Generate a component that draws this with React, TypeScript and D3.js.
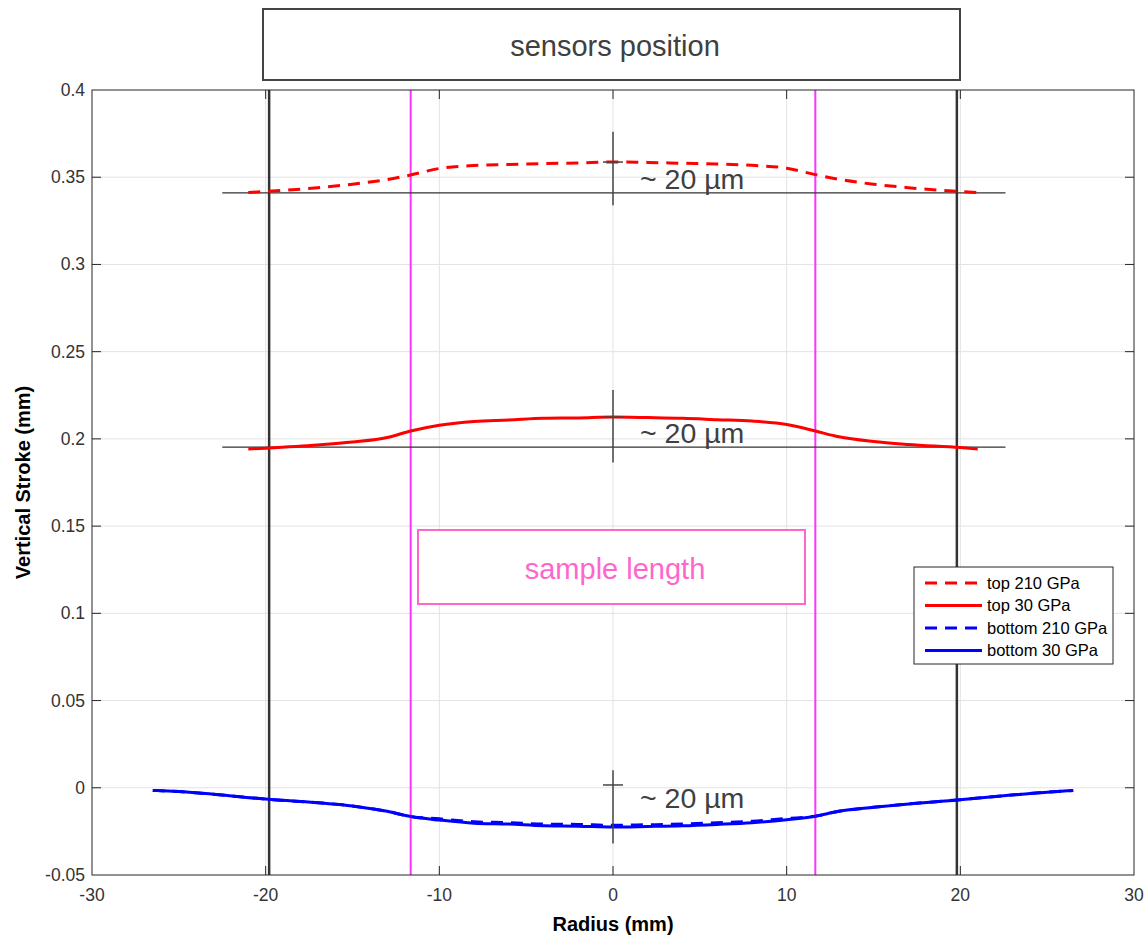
import { useEffect, useRef } from 'react'
import * as d3 from 'd3'

// radius positions (mm)
const topX = [-21, -20, -17, -15, -13, -11.65, -10, -8, -6, -4, -2, 0, 2, 4, 6, 8, 10, 11.65, 13, 15, 17, 20, 21]
const top210 = [0.3412, 0.3418, 0.344, 0.346, 0.3487, 0.3513, 0.355, 0.3567, 0.3573, 0.3578, 0.3582, 0.3587, 0.3585, 0.358, 0.3576, 0.3568, 0.3552, 0.3515, 0.3488, 0.346, 0.344, 0.3418, 0.3412]
const top30 = [0.1942, 0.1947, 0.1965, 0.1982, 0.2008, 0.2045, 0.2078, 0.21, 0.2108, 0.2118, 0.212, 0.2125, 0.2122, 0.2118, 0.211, 0.2102, 0.2082, 0.2045, 0.2012, 0.1985, 0.1968, 0.195, 0.1942]

const bottomX = [-26.5, -25, -20, -15, -13, -11.65, -10, -8, -6, -4, -2, 0, 2, 4, 6, 8, 10, 11.65, 13, 15, 20, 25, 26.5]
const bottom210 = [-0.0015, -0.0022, -0.0065, -0.0105, -0.0135, -0.0165, -0.0178, -0.0195, -0.02, -0.0208, -0.021, -0.0215, -0.0212, -0.0208, -0.02, -0.0192, -0.0176, -0.0163, -0.0135, -0.0112, -0.0068, -0.0025, -0.0015]
const bottom30 = [-0.0015, -0.0022, -0.0065, -0.0105, -0.0135, -0.0165, -0.0185, -0.0203, -0.0208, -0.0218, -0.022, -0.0225, -0.0222, -0.0218, -0.021, -0.02, -0.0183, -0.0163, -0.0135, -0.0112, -0.0068, -0.0025, -0.0015]

const xTicks = [-30, -20, -10, 0, 10, 20, 30]
const yTicks = [-0.05, 0, 0.05, 0.1, 0.15, 0.2, 0.25, 0.3, 0.35, 0.4]
const yTickLabels = ['-0.05', '0', '0.05', '0.1', '0.15', '0.2', '0.25', '0.3', '0.35', '0.4']

const sensorX = [-19.8, 19.8]
const sampleX = [-11.65, 11.65]
// reference levels: [y, x0, x1]
const refLines = [[0.341, -22.5, 22.6], [0.1953, -22.5, 22.6]]
// ~20 µm markers: [bar top, bar bottom, crossbar y, label y]
const markers = [[0.376, 0.334, 0.3587, 0.3435], [0.228, 0.1865, 0.2125, 0.1976], [0.01, -0.032, 0.0016, -0.0116]]

const series = [
  { name: 'top 210 GPa', x: topX, y: top210, color: '#ff0000', dash: '12,8' },
  { name: 'top 30 GPa', x: topX, y: top30, color: '#ff0000', dash: null },
  { name: 'bottom 210 GPa', x: bottomX, y: bottom210, color: '#0000ff', dash: '12,8' },
  { name: 'bottom 30 GPa', x: bottomX, y: bottom30, color: '#0000ff', dash: null },
]

export default function App() {
  const ref = useRef<SVGSVGElement>(null)

  useEffect(() => {
    const svg = d3.select(ref.current)
    svg.selectAll('*').remove()

    const left = 92, right = 1134, top = 90, bottom = 875
    const x = d3.scaleLinear().domain([-30, 30]).range([left, right])
    const y = d3.scaleLinear().domain([-0.05, 0.4]).range([bottom, top])
    const font = 'Liberation Sans, Arial, sans-serif'

    svg.append('rect').attr('width', 1146).attr('height', 938).attr('fill', '#fff')

    // grid
    svg.append('g').selectAll('line').data(xTicks.slice(1, -1)).join('line')
      .attr('x1', d => x(d)).attr('x2', d => x(d)).attr('y1', top).attr('y2', bottom)
      .attr('stroke', '#e3e3e3').attr('stroke-width', 1)
    svg.append('g').selectAll('line').data(yTicks.slice(1, -1)).join('line')
      .attr('y1', d => y(d)).attr('y2', d => y(d)).attr('x1', left).attr('x2', right)
      .attr('stroke', '#e3e3e3').attr('stroke-width', 1)

    // sample length lines
    svg.append('g').selectAll('line').data(sampleX).join('line')
      .attr('x1', d => x(d)).attr('x2', d => x(d)).attr('y1', top).attr('y2', bottom)
      .attr('stroke', '#ff33ff').attr('stroke-width', 2)

    // sensor lines
    svg.append('g').selectAll('line').data(sensorX).join('line')
      .attr('x1', d => x(d)).attr('x2', d => x(d)).attr('y1', top).attr('y2', bottom)
      .attr('stroke', '#333').attr('stroke-width', 2.5)

    // reference levels
    svg.append('g').selectAll('line').data(refLines).join('line')
      .attr('x1', d => x(d[1])).attr('x2', d => x(d[2])).attr('y1', d => y(d[0])).attr('y2', d => y(d[0]))
      .attr('stroke', '#333').attr('stroke-width', 1.3)

    // curves
    const line = d3.line<[number, number]>().x(d => x(d[0])).y(d => y(d[1])).curve(d3.curveMonotoneX)
    series.forEach(s => {
      svg.append('path')
        .attr('d', line(s.x.map((v, i) => [v, s.y[i]] as [number, number])))
        .attr('fill', 'none').attr('stroke', s.color).attr('stroke-width', 3)
        .attr('stroke-dasharray', s.dash)
    })

    // markers
    const mk = svg.append('g')
    markers.forEach(m => {
      mk.append('line').attr('x1', x(0)).attr('x2', x(0)).attr('y1', y(m[0])).attr('y2', y(m[1]))
        .attr('stroke', '#444').attr('stroke-width', 1.5)
      mk.append('line').attr('x1', x(0) - 10).attr('x2', x(0) + 10).attr('y1', y(m[2])).attr('y2', y(m[2]))
        .attr('stroke', '#444').attr('stroke-width', 1.5)
      mk.append('text').attr('x', x(0) + 27).attr('y', y(m[3]))
        .attr('font-family', font).attr('font-size', 28.5).attr('fill', '#404040')
        .text('~ 20 µm')
    })

    // axes box
    svg.append('rect').attr('x', left).attr('y', top).attr('width', right - left).attr('height', bottom - top)
      .attr('fill', 'none').attr('stroke', '#262626').attr('stroke-width', 1)

    const tk = svg.append('g').attr('stroke', '#262626').attr('stroke-width', 1)
    xTicks.slice(1, -1).forEach(t => {
      tk.append('line').attr('x1', x(t)).attr('x2', x(t)).attr('y1', bottom).attr('y2', bottom - 9)
      tk.append('line').attr('x1', x(t)).attr('x2', x(t)).attr('y1', top).attr('y2', top + 9)
    })
    yTicks.slice(1, -1).forEach(t => {
      tk.append('line').attr('y1', y(t)).attr('y2', y(t)).attr('x1', left).attr('x2', left + 9)
      tk.append('line').attr('y1', y(t)).attr('y2', y(t)).attr('x1', right).attr('x2', right - 9)
    })

    svg.append('g').selectAll('text').data(xTicks).join('text')
      .attr('x', d => x(d)).attr('y', bottom + 26).attr('text-anchor', 'middle')
      .attr('font-family', font).attr('font-size', 17.5).attr('fill', '#333')
      .text(d => String(d))
    svg.append('g').selectAll('text').data(yTicks).join('text')
      .attr('x', left - 7).attr('y', d => y(d) + 6).attr('text-anchor', 'end')
      .attr('font-family', font).attr('font-size', 17.5).attr('fill', '#333')
      .text((d, i) => yTickLabels[i])

    svg.append('text').attr('x', x(0)).attr('y', 931).attr('text-anchor', 'middle')
      .attr('font-family', font).attr('font-size', 20).attr('font-weight', 'bold').attr('fill', '#000')
      .text('Radius (mm)')
    svg.append('text').attr('transform', `translate(30,${(top + bottom) / 2}) rotate(-90)`).attr('text-anchor', 'middle')
      .attr('font-family', font).attr('font-size', 20).attr('font-weight', 'bold').attr('fill', '#000')
      .text('Vertical Stroke (mm)')

    // sensors position box
    svg.append('rect').attr('x', 263).attr('y', 9).attr('width', 697).attr('height', 71)
      .attr('fill', '#fff').attr('stroke', '#444').attr('stroke-width', 2)
    svg.append('text').attr('x', 615).attr('y', 56).attr('text-anchor', 'middle')
      .attr('font-family', font).attr('font-size', 29).attr('fill', '#404040')
      .text('sensors position')

    // sample length box
    svg.append('rect').attr('x', 418).attr('y', 530).attr('width', 387).attr('height', 74)
      .attr('fill', '#fff').attr('stroke', '#ff66cc').attr('stroke-width', 2)
    svg.append('text').attr('x', 615).attr('y', 579).attr('text-anchor', 'middle')
      .attr('font-family', font).attr('font-size', 29).attr('fill', '#ff66cc')
      .text('sample length')

    // legend
    const lg = svg.append('g').attr('transform', 'translate(914,567)')
    lg.append('rect').attr('width', 199).attr('height', 97).attr('fill', '#fff').attr('stroke', '#262626').attr('stroke-width', 1)
    series.forEach((s, i) => {
      const ly = 16 + i * 22.5
      lg.append('line').attr('x1', 11).attr('x2', 68).attr('y1', ly).attr('y2', ly)
        .attr('stroke', s.color).attr('stroke-width', 3).attr('stroke-dasharray', s.dash ? '12,8' : null)
      lg.append('text').attr('x', 73).attr('y', ly + 5.5)
        .attr('font-family', font).attr('font-size', 16.5).attr('fill', '#000')
        .text(s.name)
    })
  }, [])

  return <svg ref={ref} width={1146} height={938} style={{ position: 'absolute', left: 0, top: 0 }} />
}
